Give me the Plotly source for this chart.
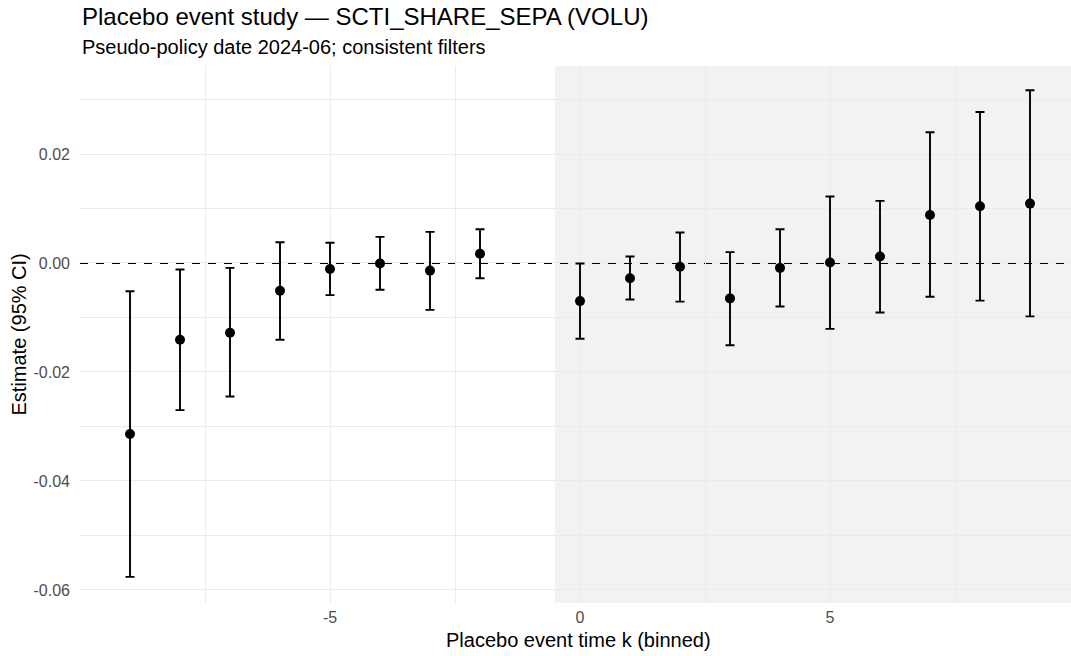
import plotly.graph_objects as go

# Data
k_values = [-9, -8, -7, -6, -5, -4, -3, -2, 0, 1, 2, 3, 4, 5, 6, 7, 8, 9]
estimate = [-0.0314, -0.0141, -0.0128, -0.0051, -0.0011, -0.0001, -0.0014, 0.0017,
            -0.0070, -0.0028, -0.0007, -0.0065, -0.0009, 0.0001, 0.0012, 0.0088, 0.0104, 0.0109]
ci_low = [-0.0576, -0.0270, -0.0245, -0.0141, -0.0059, -0.0049, -0.0086, -0.0028,
          -0.0139, -0.0067, -0.0071, -0.0151, -0.0080, -0.0121, -0.0091, -0.0062, -0.0069, -0.0098]
ci_high = [-0.0052, -0.0012, -0.0009, 0.0038, 0.0037, 0.0048, 0.0057, 0.0062,
           -0.0001, 0.0012, 0.0056, 0.0020, 0.0062, 0.0122, 0.0114, 0.0240, 0.0277, 0.0317]

x_tickvals = [-5, 0, 5]
x_ticktext = ["-5", "0", "5"]
y_tickvals = [-0.06, -0.04, -0.02, 0.00, 0.02]
y_ticktext = ["-0.06", "-0.04", "-0.02", "0.00", "0.02"]

title_text = "Placebo event study \u2014 SCTI_SHARE_SEPA (VOLU)"
subtitle_text = "Pseudo-policy date 2024-06; consistent filters"
x_title = "Placebo event time k (binned)"
y_title = "Estimate (95% CI)"
placebo_start = -0.5

FONT = "Liberation Sans, Arial, sans-serif"

err_plus = [h - e for h, e in zip(ci_high, estimate)]
err_minus = [e - l for e, l in zip(estimate, ci_low)]

fig = go.Figure()
fig.add_trace(go.Scatter(
    x=k_values, y=estimate, mode="markers",
    marker=dict(color="black", size=10),
    error_y=dict(type="data", symmetric=False, array=err_plus, arrayminus=err_minus,
                 color="black", thickness=1.9, width=4.5),
    showlegend=False,
))

fig.add_shape(type="rect", xref="x", yref="paper", x0=placebo_start, x1=12,
              y0=0, y1=1, fillcolor="rgba(0,0,0,0.05)", line=dict(width=0), layer="between")
fig.add_shape(type="line", xref="paper", yref="y", x0=0, x1=1, y0=0, y1=0,
              line=dict(color="black", width=2, dash="8px,8px"), layer="between")

# plot area spans page x 80..1071, y 66..603
PLOT_TOP, PLOT_BOTTOM, PLOT_LEFT, PLOT_W = 66, 603, 80, 991
H = PLOT_BOTTOM - PLOT_TOP


def py(p):
    return (PLOT_BOTTOM - p) / H


def px(p):
    return (p - PLOT_LEFT) / PLOT_W


fig.update_layout(
    width=1071, height=656,
    margin=dict(l=80, r=0, t=66, b=53),
    paper_bgcolor="white", plot_bgcolor="white",
    font=dict(family=FONT, color="black"),
    showlegend=False,
    xaxis=dict(
        range=[-10, 9.82], tickvals=x_tickvals, ticktext=x_ticktext,
        showgrid=True, gridcolor="#EBEBEB", gridwidth=1.4,
        minor=dict(dtick=2.5, tick0=0, showgrid=True, gridcolor="#EBEBEB", gridwidth=0.8),
        zeroline=False, showline=False, ticks="", ticklabelstandoff=3,
        tickfont=dict(size=16, color="#4D4D4D", family=FONT),
    ),
    yaxis=dict(
        range=[-0.0624, 0.03615], tickvals=y_tickvals, ticktext=y_ticktext,
        showgrid=True, gridcolor="#EBEBEB", gridwidth=1.4,
        minor=dict(dtick=0.01, tick0=0, showgrid=True, gridcolor="#EBEBEB", gridwidth=0.8),
        zeroline=False, showline=False, ticks="", ticklabelstandoff=9,
        tickfont=dict(size=16, color="#4D4D4D", family=FONT),
    ),
    annotations=[
        dict(text=title_text, xref="paper", yref="paper", x=0, y=py(17),
             xanchor="left", yanchor="middle", showarrow=False,
             font=dict(size=24, color="black", family=FONT)),
        dict(text=subtitle_text, xref="paper", yref="paper", x=0, y=py(47),
             xanchor="left", yanchor="middle", showarrow=False,
             font=dict(size=20, color="black", family=FONT)),
        dict(text=x_title, xref="paper", yref="paper", x=px(578), y=py(640),
             xanchor="center", yanchor="middle", showarrow=False,
             font=dict(size=20, color="black", family=FONT)),
        dict(text=y_title, xref="paper", yref="paper", x=px(18), y=0.5,
             xanchor="center", yanchor="middle", showarrow=False, textangle=-90,
             font=dict(size=20, color="black", family=FONT)),
    ],
)

fig.write_html("out.html", config={"displayModeBar": False},
               post_script="document.body.style.margin='0';document.body.style.overflow='hidden';")
